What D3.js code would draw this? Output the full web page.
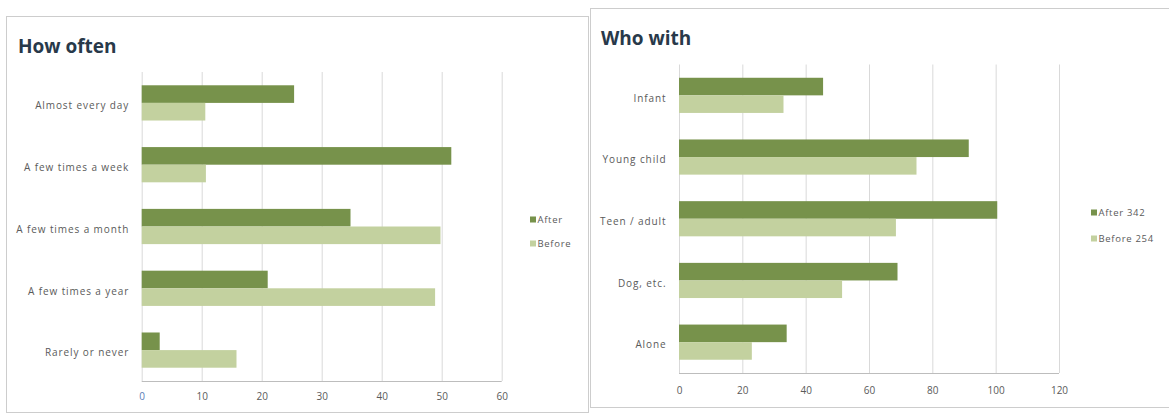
<!DOCTYPE html>
<html>
<head>
<meta charset="utf-8">
<script src="https://cdn.jsdelivr.net/npm/d3@7"></script>
<style>
  html, body { margin: 0; padding: 0; background: #ffffff; }
  svg { display: block; }
  text { font-family: "Open Sans", "DejaVu Sans", sans-serif; }
</style>
</head>
<body>
<svg id="chart" width="1169" height="416"></svg>
<script>
// ---------- DATA ----------
const howCategories = ["Almost every day", "A few times a week", "A few times a month", "A few times a year", "Rarely or never"];
const howAfter = [25.4, 51.6, 34.8, 21, 3];
const howBefore = [10.6, 10.7, 49.8, 48.9, 15.8];
const howTicks = [0, 10, 20, 30, 40, 50, 60];
const howSeries = ["After", "Before"];

const whoCategories = ["Infant", "Young child", "Teen / adult", "Dog, etc.", "Alone"];
const whoAfter = [45.5, 91.5, 100.5, 69, 34];
const whoBefore = [33, 75, 68.5, 51.5, 23];
const whoTicks = [0, 20, 40, 60, 80, 100, 120];
const whoSeries = ["After 342", "Before 254"];

const titles = ["How often", "Who with"];

// ---------- STYLE ----------
const colAfter = "#77924b";
const colBefore = "#c3d19f";
const gridCol = "#d9d9d9";
const textCol = "#5a5a5a";

const svg = d3.select("#chart");

function panel(opts) {
  const g = svg.append("g");
  // panel frame
  g.append("rect")
    .attr("x", opts.frame[0] + 0.5).attr("y", opts.frame[1] + 0.5)
    .attr("width", opts.frame[2]).attr("height", opts.frame[3])
    .attr("fill", "none").attr("stroke", "#cdcdcd").attr("stroke-width", 1);

  // title
  g.append("text")
    .attr("x", opts.titlePos[0]).attr("y", opts.titlePos[1])
    .attr("font-size", 19).attr("font-weight", 700)
    .attr("fill", "#28394a")
    .text(opts.title);

  const x = d3.scaleLinear().domain([opts.ticks[0], opts.ticks[opts.ticks.length - 1]]).range(opts.xr);
  const y = d3.scaleBand().domain(opts.categories).range(opts.yr).paddingInner(0.43).paddingOuter(0.215);
  const sub = d3.scaleBand().domain(opts.series).range([0, y.bandwidth()]);

  // gridlines
  const grid = g.append("g")
    .attr("transform", `translate(0,${opts.yr[1]})`)
    .call(d3.axisBottom(x).tickValues(opts.ticks).tickSize(-(opts.yr[1] - opts.yr[0])).tickFormat(""));
  grid.select(".domain").remove();
  grid.selectAll("line").attr("stroke", gridCol).attr("stroke-width", 1);

  // bars
  const rows = opts.categories.map((c, i) => ({ c, vals: [opts.after[i], opts.before[i]] }));
  const rowG = g.selectAll("g.row").data(rows).join("g")
    .attr("class", "row")
    .attr("transform", d => `translate(0,${y(d.c)})`);
  rowG.selectAll("rect").data(d => d.vals.map((v, k) => ({ v, s: opts.series[k], k }))).join("rect")
    .attr("x", x(0))
    .attr("y", d => sub(d.s))
    .attr("width", d => x(d.v) - x(0))
    .attr("height", sub.bandwidth())
    .attr("fill", d => d.k === 0 ? colAfter : colBefore);

  // bottom axis line
  g.append("line")
    .attr("x1", x.range()[0]).attr("x2", x.range()[1])
    .attr("y1", opts.yr[1] + 0.5).attr("y2", opts.yr[1] + 0.5)
    .attr("stroke", "#bdbdbd");

  // tick labels
  const xa = g.append("g")
    .attr("transform", `translate(0,${opts.yr[1]})`)
    .call(d3.axisBottom(x).tickValues(opts.ticks).tickSize(0).tickPadding(opts.tickPad));
  xa.select(".domain").remove();
  xa.selectAll("text").attr("font-size", 10).attr("fill", textCol)
    .attr("font-family", "'Open Sans', sans-serif");
  if (opts.blueZero) xa.selectAll("text").filter(d => d === 0).attr("fill", "#5b7db5");

  // category labels
  const ya = g.append("g")
    .attr("transform", `translate(${x(0)},0)`)
    .call(d3.axisLeft(y).tickSize(0).tickPadding(12.5));
  ya.select(".domain").remove();
  ya.selectAll("text").attr("font-size", 10).attr("fill", textCol)
    .attr("letter-spacing", 0.9)
    .attr("y", 3)
    .attr("font-family", "'Open Sans', sans-serif");

  // legend
  const lg = g.append("g").attr("transform", `translate(${opts.legend[0]},${opts.legend[1]})`);
  opts.series.forEach((s, k) => {
    lg.append("rect").attr("x", 0).attr("y", k * opts.legendGap - 3.5).attr("width", 6).attr("height", 6)
      .attr("fill", k === 0 ? colAfter : colBefore);
    lg.append("text").attr("x", 7.5).attr("y", k * opts.legendGap).attr("dy", "0.35em")
      .attr("font-size", 9.5).attr("fill", textCol).attr("letter-spacing", 0.7)
      .text(s);
  });
}

panel({
  frame: [6, 16, 582, 396],
  title: titles[0], titlePos: [18, 53],
  categories: howCategories, after: howAfter, before: howBefore, ticks: howTicks, series: howSeries,
  xr: [141.7, 501.7], yr: [72, 381], tickPad: 12, blueZero: true,
  legend: [530, 220], legendGap: 24
});

panel({
  frame: [590, 8, 590, 399],
  title: titles[1], titlePos: [601, 45],
  categories: whoCategories, after: whoAfter, before: whoBefore, ticks: whoTicks, series: whoSeries,
  xr: [679, 1059], yr: [64.5, 373], tickPad: 14, blueZero: false,
  legend: [1091, 213], legendGap: 26
});
</script>
</body>
</html>
